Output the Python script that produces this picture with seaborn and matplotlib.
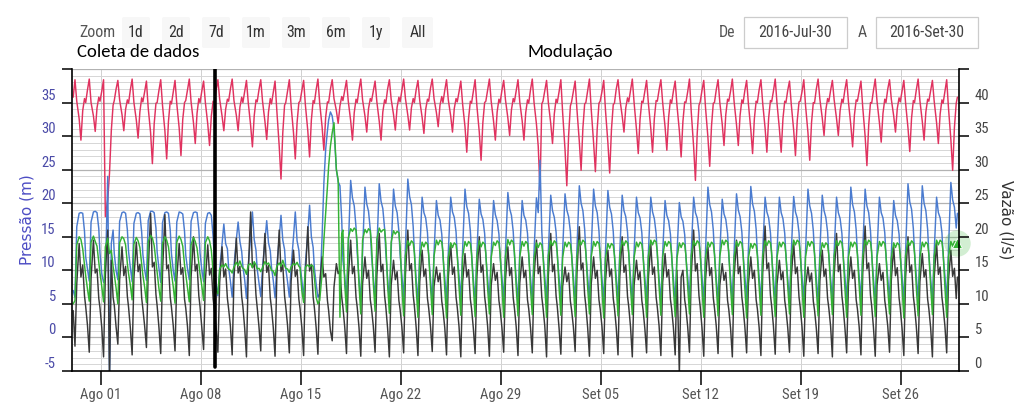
import matplotlib
matplotlib.use("Agg")
import numpy as np
import pandas as pd
import matplotlib.pyplot as plt
import seaborn as sns
from matplotlib import font_manager
from matplotlib.patches import Rectangle, FancyBboxPatch
from matplotlib.ticker import MultipleLocator, FixedLocator

# ---------------- data ----------------
START = "2016-07-30"
HOURS = [2, 5, 8, 12, 15, 18, 21, 23]          # sample hours within each day

RED = [
    [35.8, 38.4, 35.2, 32.6, 29.4, 33.8, 35.6, 35.0],
    [36.9, 38.5, 35.0, 33.0, 30.7, 34.2, 35.8, 35.2],
    [36.7, 38.4, 18.0, 20.5, 24.5, 30.8, 34.6, 35.3],
    [37.0, 38.3, 35.4, 33.2, 30.8, 34.0, 35.4, 34.9],
    [36.9, 38.5, 35.0, 32.4, 29.7, 33.6, 35.7, 35.1],
    [36.6, 38.2, 34.2, 30.5, 25.9, 31.8, 34.9, 35.0],
    [36.8, 38.4, 34.6, 30.8, 26.6, 32.2, 35.2, 34.8],
    [36.5, 38.3, 34.8, 31.2, 27.1, 32.5, 35.0, 35.3],
    [36.9, 38.5, 35.1, 32.0, 28.9, 33.4, 35.6, 35.0],
    [36.7, 38.2, 35.0, 31.8, 28.6, 33.0, 35.2, 34.9],
    [36.8, 38.4, 35.5, 33.0, 30.8, 34.0, 35.5, 35.2],
    [37.0, 38.5, 35.3, 33.1, 30.8, 34.3, 35.8, 35.0],
    [36.6, 38.3, 35.0, 31.6, 28.4, 33.0, 35.4, 35.1],
    [36.9, 38.4, 35.2, 32.2, 29.5, 33.6, 35.6, 34.8],
    [36.5, 38.2, 33.8, 28.5, 23.6, 30.5, 34.6, 35.0],
    [36.7, 38.4, 34.5, 30.5, 26.6, 32.0, 35.0, 35.2],
    [36.8, 38.3, 34.6, 30.8, 26.9, 32.4, 35.3, 34.9],
    [36.9, 38.5, 34.9, 31.4, 27.9, 32.8, 35.1, 35.0],
    [37.0, 38.4, 35.6, 33.8, 31.9, 34.5, 35.9, 35.3],
    [36.8, 38.3, 35.2, 32.3, 29.4, 33.5, 35.5, 35.0],
    [36.9, 38.5, 35.4, 33.0, 30.6, 34.1, 35.6, 35.2],
    [36.7, 38.2, 35.1, 32.2, 29.4, 33.6, 35.4, 34.9],
    [37.0, 38.4, 35.5, 33.2, 30.9, 34.3, 35.8, 35.1],
    [36.8, 38.5, 35.6, 33.1, 30.9, 34.2, 35.6, 35.0],
    [36.9, 38.3, 35.3, 32.8, 30.4, 34.0, 35.5, 35.2],
    [37.1, 38.5, 35.6, 33.5, 31.4, 34.6, 35.9, 35.0],
    [36.8, 38.4, 35.4, 33.0, 30.6, 34.1, 35.6, 35.1],
    [36.6, 38.2, 34.8, 31.4, 27.6, 32.6, 35.2, 34.9],
    [36.7, 38.4, 34.5, 30.6, 26.4, 32.0, 35.0, 35.2],
    [36.9, 38.5, 35.2, 32.2, 29.4, 33.6, 35.5, 35.0],
    [36.8, 38.3, 35.4, 32.7, 30.1, 33.9, 35.6, 35.1],
    [36.7, 38.4, 35.1, 32.3, 29.4, 33.5, 35.4, 34.9],
    [36.9, 38.5, 35.0, 31.8, 28.5, 22.0, 34.8, 35.2],
    [36.8, 38.3, 35.0, 31.9, 28.9, 33.3, 35.5, 35.0],
    [36.6, 38.4, 33.5, 28.0, 22.6, 30.0, 34.5, 35.1],
    [36.7, 38.2, 34.0, 29.2, 24.9, 31.2, 34.8, 35.0],
    [36.8, 38.5, 34.0, 29.0, 24.7, 31.0, 34.9, 35.2],
    [36.6, 38.3, 33.8, 29.0, 24.5, 31.0, 34.7, 34.9],
    [37.0, 38.4, 35.6, 33.0, 30.6, 34.2, 35.7, 35.1],
    [36.8, 38.5, 35.0, 31.0, 27.4, 32.5, 35.2, 35.0],
    [36.7, 38.3, 34.9, 31.2, 27.6, 32.6, 35.3, 35.2],
    [36.9, 38.4, 35.0, 31.4, 27.9, 32.8, 35.4, 34.9],
    [36.7, 38.2, 34.6, 30.8, 26.9, 32.2, 35.1, 35.0],
    [36.6, 38.5, 33.6, 28.4, 23.4, 30.4, 34.6, 35.1],
    [36.8, 38.3, 34.2, 29.8, 25.5, 31.5, 34.9, 35.0],
    [36.9, 38.4, 35.0, 31.8, 28.6, 33.2, 35.5, 35.2],
    [36.7, 38.5, 35.1, 31.7, 28.6, 33.1, 35.4, 34.9],
    [36.8, 38.3, 34.8, 31.0, 27.4, 32.6, 35.2, 35.0],
    [36.9, 38.4, 34.9, 31.2, 27.6, 32.7, 35.3, 35.1],
    [36.7, 38.5, 34.9, 31.1, 27.6, 32.6, 35.2, 35.0],
    [36.8, 38.2, 34.7, 30.9, 27.1, 32.3, 35.1, 35.2],
    [36.6, 38.4, 34.5, 30.5, 26.4, 32.0, 35.0, 34.9],
    [37.0, 38.5, 35.5, 32.7, 30.1, 33.9, 35.6, 35.1],
    [36.8, 38.3, 35.4, 32.6, 30.1, 33.8, 35.5, 35.0],
    [36.9, 38.4, 35.1, 31.6, 28.4, 33.1, 35.4, 35.2],
    [36.7, 38.2, 34.3, 30.0, 25.6, 31.6, 35.0, 34.9],
    [36.8, 38.5, 35.2, 32.0, 29.1, 33.4, 35.5, 35.0],
    [37.0, 38.4, 35.5, 33.0, 30.6, 34.1, 35.7, 35.1],
    [36.7, 38.3, 34.9, 31.2, 27.7, 32.7, 35.3, 35.0],
    [36.9, 38.5, 35.3, 32.2, 29.4, 33.6, 35.5, 35.2],
    [36.8, 38.3, 35.2, 32.0, 28.9, 33.3, 35.4, 34.9],
    [36.6, 38.4, 34.2, 29.5, 24.9, 31.3, 34.9, 35.8],
]

BLUE = [
    [7.0, 6.0, 16.5, 18.5, 18.6, 18.5, 15.8, 12.0],
    [10.2, 8.4, 17.2, 18.7, 18.8, 18.6, 16.2, 12.6],
    [9.5, 8.2, 9.0, 24.0, -6.0, 14.0, 16.0, 12.5],
    [10.0, 8.6, 17.3, 18.6, 18.7, 18.5, 16.0, 12.8],
    [10.4, 8.3, 17.0, 18.5, 18.6, 18.4, 15.7, 12.4],
    [10.1, 8.5, 17.4, 18.8, 18.8, 18.6, 16.3, 12.7],
    [10.3, 8.2, 17.1, 18.6, 18.7, 18.5, 16.0, 12.5],
    [10.0, 8.4, 17.2, 18.7, 18.6, 18.4, 15.8, 12.3],
    [10.2, 8.6, 17.3, 18.6, 18.7, 18.6, 16.1, 12.6],
    [10.1, 8.3, 17.0, 18.5, 18.6, 18.2, 15.0, 12.0],
    [8.0, 6.2, 10.0, 14.0, 16.9, 14.0, 13.2, 10.4],
    [8.4, 6.0, 10.6, 14.6, 17.2, 14.3, 12.8, 10.6],
    [8.6, 5.8, 10.8, 15.0, 18.7, 14.6, 13.0, 10.2],
    [8.2, 6.1, 10.4, 14.4, 17.4, 14.1, 12.9, 10.5],
    [8.5, 5.9, 10.7, 14.8, 18.2, 14.5, 13.1, 10.3],
    [8.3, 6.0, 10.5, 15.0, 18.7, 14.4, 13.0, 10.6],
    [8.6, 5.7, 11.0, 15.5, 19.7, 15.0, 13.4, 10.4],
    [8.0, 6.0, 6.5, 15.0, 23.0, 28.0, 30.8, 32.4],
    [33.6, 33.0, 31.0, 25.0, 23.2, 22.6, 17.5, 11.5],
    [9.2, 5.6, 13.2, 23.4, 20.8, 19.6, 16.4, 12.6],
    [8.8, 5.3, 12.8, 22.4, 19.9, 18.8, 16.0, 12.3],
    [9.1, 5.7, 13.1, 22.9, 20.3, 19.2, 16.2, 12.7],
    [8.9, 5.4, 12.9, 22.1, 19.6, 18.6, 15.8, 12.4],
    [9.3, 5.8, 13.4, 23.6, 21.0, 19.8, 16.5, 12.8],
    [8.7, 5.2, 12.6, 20.9, 18.6, 17.8, 15.6, 12.2],
    [8.9, 5.5, 12.5, 20.4, 18.2, 17.5, 15.4, 12.1],
    [9.0, 5.3, 12.7, 20.9, 18.7, 17.9, 15.7, 12.3],
    [9.2, 5.6, 13.0, 22.1, 19.5, 18.5, 15.9, 12.5],
    [8.8, 5.4, 12.6, 20.6, 18.4, 17.6, 15.5, 12.2],
    [8.9, 5.2, 12.5, 20.4, 18.3, 17.4, 15.4, 12.0],
    [9.1, 5.5, 12.9, 21.6, 19.2, 18.2, 15.8, 12.4],
    [8.8, 5.3, 12.6, 20.4, 18.2, 17.5, 15.5, 12.2],
    [9.0, 5.5, 12.8, 20.8, 18.6, 26.4, 15.8, 12.4],
    [9.1, 5.4, 12.8, 21.2, 18.9, 17.9, 15.7, 12.3],
    [8.9, 5.6, 12.9, 21.4, 19.0, 18.0, 15.8, 12.5],
    [9.2, 5.3, 13.1, 22.6, 20.0, 18.9, 16.1, 12.6],
    [9.0, 5.5, 13.0, 22.1, 19.6, 18.6, 15.9, 12.4],
    [8.8, 5.4, 12.9, 21.9, 19.4, 18.4, 15.8, 12.3],
    [9.1, 5.6, 12.8, 21.2, 18.9, 18.0, 15.7, 12.5],
    [8.9, 5.3, 12.7, 20.9, 18.6, 17.8, 15.6, 12.2],
    [9.0, 5.5, 12.6, 20.9, 18.7, 17.7, 15.5, 12.3],
    [8.8, 5.2, 12.5, 20.4, 18.2, 17.4, 15.4, 12.1],
    [8.9, 5.4, 12.4, 20.1, 18.0, 17.3, 15.3, 12.0],
    [9.1, 5.6, 12.7, 20.9, 18.6, 17.8, 15.6, 12.4],
    [9.2, 5.3, 13.0, 22.4, 19.8, 18.7, 16.0, 12.5],
    [8.8, 5.5, 12.6, 20.6, 18.4, 17.6, 15.5, 12.2],
    [9.0, 5.4, 12.8, 21.4, 19.0, 18.0, 15.7, 12.4],
    [9.2, 5.6, 13.1, 22.5, 19.9, 18.8, 16.1, 12.6],
    [8.9, 5.3, 12.7, 20.9, 18.7, 17.8, 15.6, 12.3],
    [9.0, 5.5, 12.6, 20.9, 18.6, 17.7, 15.5, 12.2],
    [8.8, 5.4, 12.7, 21.0, 18.7, 17.8, 15.6, 12.3],
    [9.1, 5.6, 13.0, 22.1, 19.6, 18.5, 15.9, 12.5],
    [8.9, 5.3, 12.8, 21.2, 18.9, 17.9, 15.7, 12.3],
    [9.0, 5.5, 12.7, 20.9, 18.6, 17.7, 15.5, 12.2],
    [9.2, 5.4, 13.0, 22.4, 19.8, 18.7, 16.0, 12.6],
    [9.0, 5.6, 12.9, 22.1, 19.6, 18.6, 15.9, 12.4],
    [8.8, 5.3, 12.6, 20.9, 18.6, 17.8, 15.6, 12.2],
    [8.9, 5.5, 12.5, 20.4, 18.2, 17.4, 15.4, 12.1],
    [9.2, 5.4, 13.1, 22.9, 20.2, 19.1, 16.2, 12.6],
    [9.1, 5.6, 13.0, 22.6, 20.0, 18.9, 16.1, 12.5],
    [8.9, 5.3, 12.7, 20.9, 18.6, 17.8, 15.6, 12.3],
    [9.2, 5.5, 13.2, 23.1, 20.5, 19.4, 16.3, 18.5],
]

BLACK = [
    [4.0, -1.3, 8.0, 14.0, 9.0, 10.8, 6.2, 4.6],
    [1.8, -2.2, 8.8, 14.5, 9.6, 10.2, 5.8, 4.4],
    [1.5, -2.9, 9.5, 16.0, -6.0, 11.5, 6.0, 4.8],
    [1.6, -1.0, 8.6, 13.5, 9.2, 10.6, 6.1, 4.5],
    [1.4, -2.6, 8.9, 14.2, 9.8, 10.9, 5.9, 4.3],
    [1.7, -1.5, 9.8, 18.5, 10.5, 11.2, 6.4, 4.7],
    [1.5, -2.4, 9.6, 18.3, 10.2, 10.8, 6.0, 4.5],
    [1.8, -2.0, 8.7, 14.0, 9.4, 10.4, 5.7, 4.4],
    [1.6, -2.7, 9.0, 15.0, 9.9, 10.9, 6.2, 4.6],
    [1.5, -1.8, 8.5, 13.8, 9.3, 10.3, 5.8, 4.2],
    [1.5, -2.2, 8.2, 13.5, 9.0, 10.2, 5.8, 4.3],
    [1.7, -2.6, 8.8, 14.8, 9.6, 10.6, 6.1, 4.6],
    [1.4, -2.9, 9.6, 18.7, 10.4, 11.0, 6.3, 4.5],
    [1.6, -2.0, 8.9, 15.5, 9.7, 10.7, 5.9, 4.4],
    [1.5, -2.8, 9.1, 16.0, 9.8, 10.8, 6.2, 4.6],
    [1.8, -2.3, 8.4, 13.0, 9.1, 10.1, 5.7, 4.3],
    [1.5, -2.7, 9.2, 16.5, 9.9, 10.9, 6.0, 4.5],
    [1.5, -2.5, 8.0, 12.0, 9.0, 9.5, 5.5, 4.0],
    [1.0, -0.5, 7.5, 11.0, 9.5, 10.0, 6.0, 4.5],
    [1.6, -2.4, 8.8, 14.5, 9.5, 10.6, 6.0, 4.5],
    [1.5, -2.8, 8.0, 12.0, 8.8, 10.0, 5.6, 4.3],
    [1.7, -2.2, 9.2, 15.5, 9.8, 10.9, 6.2, 4.6],
    [1.4, -2.9, 7.8, 11.5, 8.6, 9.8, 5.5, 4.2],
    [1.6, -2.3, 9.4, 16.0, 10.0, 11.0, 6.3, 4.7],
    [1.5, -2.7, 8.3, 13.0, 9.1, 10.2, 5.8, 4.4],
    [1.7, -2.1, 7.6, 10.5, 8.3, 9.6, 5.4, 4.1],
    [1.5, -2.6, 8.9, 14.0, 9.4, 10.5, 6.0, 4.5],
    [1.6, -2.9, 8.2, 12.5, 9.0, 10.1, 5.7, 4.3],
    [1.4, -2.4, 9.1, 15.0, 9.7, 10.8, 6.1, 4.6],
    [1.7, -2.8, 7.8, 11.0, 8.5, 9.7, 5.5, 4.2],
    [1.5, -2.2, 8.6, 13.5, 9.2, 10.4, 5.9, 4.4],
    [1.6, -2.7, 8.1, 12.0, 8.9, 10.0, 5.6, 4.3],
    [1.5, -2.3, 8.9, 14.5, 9.5, 10.6, 6.0, 4.5],
    [1.7, -2.9, 9.2, 15.5, 9.8, 10.9, 6.2, 4.6],
    [1.4, -2.5, 7.6, 10.5, 8.3, 9.6, 5.4, 4.1],
    [1.6, -2.1, 9.5, 16.5, 10.1, 11.1, 6.3, 4.7],
    [1.5, -2.8, 8.0, 12.0, 8.8, 10.0, 5.6, 4.3],
    [1.7, -2.4, 8.4, 13.0, 9.1, 10.2, 5.8, 4.4],
    [1.5, -2.6, 9.0, 15.0, 9.7, 10.8, 6.1, 4.6],
    [1.6, -2.9, 7.8, 11.5, 8.6, 9.8, 5.5, 4.2],
    [1.4, -2.3, 8.8, 14.0, 9.4, 10.5, 6.0, 4.5],
    [1.7, -2.7, 8.2, 12.5, 9.0, 10.1, 5.7, 4.3],
    [1.5, -2.6, 10.0, -5.5, 9.0, 10.0, 5.6, 4.4],
    [1.6, -2.2, 9.3, 16.0, 9.9, 11.0, 6.2, 4.6],
    [1.5, -2.8, 8.6, 13.5, 9.2, 10.4, 5.9, 4.4],
    [1.7, -2.4, 7.8, 11.0, 8.5, 9.7, 5.5, 4.2],
    [1.4, -2.9, 9.0, 14.5, 9.5, 10.6, 6.0, 4.5],
    [1.6, -2.3, 8.0, 12.0, 8.8, 10.0, 5.6, 4.3],
    [1.5, -2.7, 9.6, 16.6, 10.2, 11.1, 6.3, 4.7],
    [1.7, -2.5, 7.9, 11.5, 8.6, 9.8, 5.5, 4.2],
    [1.5, -2.2, 8.9, 14.2, 9.5, 10.5, 6.0, 4.5],
    [1.6, -2.8, 7.6, 10.5, 8.3, 9.6, 5.4, 4.1],
    [1.4, -2.4, 8.4, 13.0, 9.1, 10.2, 5.8, 4.4],
    [1.7, -2.9, 9.2, 15.5, 9.8, 10.9, 6.2, 4.6],
    [1.5, -2.3, 8.0, 12.0, 8.8, 10.0, 5.6, 4.3],
    [1.6, -2.6, 9.6, 16.6, 10.2, 11.1, 6.3, 4.7],
    [1.5, -2.8, 7.8, 11.0, 8.5, 9.7, 5.5, 4.2],
    [1.7, -2.2, 8.6, 13.5, 9.2, 10.4, 5.9, 4.4],
    [1.4, -2.7, 9.0, 15.0, 9.7, 10.8, 6.1, 4.6],
    [1.6, -2.4, 8.3, 12.5, 9.0, 10.1, 5.7, 4.3],
    [1.5, -2.9, 8.9, 14.0, 9.4, 10.5, 6.0, 4.5],
    [1.7, -2.3, 8.5, 13.0, 9.1, 10.3, 5.8, 9.0],
]

GREEN = [
    [5.0, 5.5, 13.8, 15.0, 14.6, 13.2, 10.8, 9.2],
    [7.2, 5.4, 14.2, 15.1, 14.3, 13.6, 11.2, 9.6],
    [7.6, 5.3, 13.5, 14.8, 12.5, 13.0, 10.6, 9.4],
    [7.4, 5.0, 14.1, 15.0, 14.7, 13.8, 11.0, 9.5],
    [7.8, 5.6, 13.9, 14.9, 14.4, 13.4, 10.9, 9.3],
    [7.5, 5.2, 14.3, 15.2, 14.8, 13.7, 11.3, 9.7],
    [7.3, 5.4, 14.0, 15.0, 14.5, 13.5, 11.1, 9.6],
    [7.6, 5.1, 14.2, 15.1, 14.6, 13.6, 10.8, 9.4],
    [7.4, 5.3, 13.8, 14.9, 14.3, 13.3, 11.0, 9.5],
    [7.7, 5.5, 14.1, 15.0, 14.4, 13.0, 9.8, 8.0],
    [7.0, 6.5, 10.2, 10.8, 10.5, 11.0, 10.4, 10.2],
    [10.0, 9.6, 10.5, 11.2, 10.7, 11.4, 10.6, 10.3],
    [10.1, 9.4, 10.8, 11.0, 10.4, 11.3, 10.8, 10.2],
    [10.3, 9.8, 10.4, 11.3, 10.9, 11.1, 10.5, 10.0],
    [9.9, 9.2, 10.6, 11.1, 10.6, 11.5, 10.7, 10.3],
    [10.2, 9.7, 10.5, 11.0, 10.8, 11.2, 10.6, 10.4],
    [7.0, 5.2, 10.5, 10.8, 10.5, 10.8, 10.6, 9.0],
    [6.0, 5.0, 5.5, 9.5, 14.5, 18.5, 22.5, 25.5],
    [28.5, 30.5, 32.0, 25.0, 23.5, 3.0, 15.5, 16.0],
    [8.0, 3.8, 14.8, 16.2, 15.8, 16.3, 16.0, 14.0],
    [7.8, 3.5, 14.5, 16.1, 15.6, 16.2, 15.9, 13.8],
    [8.1, 3.9, 14.6, 16.3, 15.7, 16.0, 16.1, 14.1],
    [7.9, 3.6, 14.2, 15.9, 15.4, 15.8, 15.6, 13.6],
    [7.6, 3.2, 12.2, 14.4, 13.7, 14.4, 14.1, 12.6],
    [7.4, 3.0, 11.8, 14.2, 13.5, 14.2, 13.9, 12.4],
    [7.7, 3.4, 12.1, 14.5, 13.8, 14.5, 14.2, 12.7],
    [7.3, 2.9, 11.9, 14.1, 13.4, 14.1, 13.8, 12.3],
    [7.5, 3.3, 12.0, 14.3, 13.6, 14.3, 14.0, 12.5],
    [7.6, 3.1, 12.2, 14.4, 13.5, 14.2, 13.9, 12.6],
    [7.4, 3.5, 11.9, 14.2, 13.7, 14.4, 14.1, 12.4],
    [7.7, 3.0, 12.1, 14.6, 13.8, 14.5, 14.2, 12.7],
    [7.5, 3.2, 12.0, 14.3, 13.6, 14.3, 14.0, 12.5],
    [7.3, 3.4, 11.8, 14.1, 13.4, 14.1, 13.8, 12.3],
    [7.6, 3.0, 12.2, 14.4, 13.7, 14.4, 14.1, 12.6],
    [7.4, 3.3, 11.9, 14.2, 13.5, 14.2, 13.9, 12.4],
    [7.7, 3.1, 12.1, 14.5, 13.8, 14.5, 14.2, 12.7],
    [7.5, 3.5, 12.0, 14.3, 13.6, 14.3, 14.0, 12.5],
    [7.3, 2.9, 11.8, 14.0, 13.3, 14.0, 13.7, 12.2],
    [7.6, 3.2, 12.2, 14.4, 13.7, 14.4, 14.1, 12.6],
    [7.4, 3.4, 11.9, 14.2, 13.5, 14.2, 13.9, 12.4],
    [7.7, 3.0, 12.1, 14.5, 13.8, 14.5, 14.2, 12.7],
    [7.5, 3.3, 12.0, 14.3, 13.6, 14.3, 14.0, 12.5],
    [7.3, 3.1, 11.8, 14.1, 13.4, 14.1, 13.8, 12.3],
    [7.6, 3.5, 12.2, 14.4, 13.7, 14.4, 14.1, 12.6],
    [7.4, 3.0, 11.9, 14.2, 13.5, 14.2, 13.9, 12.4],
    [7.7, 3.2, 12.1, 14.5, 13.8, 14.5, 14.2, 12.7],
    [7.5, 3.4, 12.0, 14.3, 13.6, 14.3, 14.0, 12.5],
    [7.3, 2.9, 11.8, 14.0, 13.3, 14.0, 13.7, 12.2],
    [7.6, 3.3, 12.2, 14.4, 13.7, 14.4, 14.1, 12.6],
    [7.4, 3.1, 11.9, 14.2, 13.5, 14.2, 13.9, 12.4],
    [7.7, 3.5, 12.1, 14.5, 13.8, 14.5, 14.2, 12.7],
    [7.5, 3.0, 12.0, 14.3, 13.6, 14.3, 14.0, 12.5],
    [7.3, 3.2, 11.8, 14.1, 13.4, 14.1, 13.8, 12.3],
    [7.6, 3.4, 12.2, 14.4, 13.7, 14.4, 14.1, 12.6],
    [7.4, 3.0, 11.9, 14.2, 13.5, 14.2, 13.9, 12.4],
    [7.7, 3.3, 12.1, 14.5, 13.8, 14.5, 14.2, 12.7],
    [7.5, 3.1, 12.0, 14.3, 13.6, 14.3, 14.0, 12.5],
    [7.3, 3.5, 11.8, 14.1, 13.4, 14.1, 13.8, 12.3],
    [7.6, 2.9, 12.2, 14.4, 13.7, 14.4, 14.1, 12.6],
    [7.4, 3.2, 11.9, 14.2, 13.5, 14.2, 13.9, 12.4],
    [7.7, 3.4, 12.1, 14.5, 13.8, 14.5, 14.2, 12.7],
    [7.5, 3.0, 12.0, 14.3, 13.6, 14.3, 14.2, 14.0],
]

SERIES_NAMES = ["red", "blue", "black", "green"]
PALETTE = {"red": "#e0325f", "blue": "#4a7bcf", "black": "#383838", "green": "#33b233"}

XTICK_DATES = ["2016-08-01", "2016-08-08", "2016-08-15", "2016-08-22", "2016-08-29",
               "2016-09-05", "2016-09-12", "2016-09-19", "2016-09-26"]
XTICK_LABELS = ["Ago 01", "Ago 08", "Ago 15", "Ago 22", "Ago 29",
                "Set 05", "Set 12", "Set 19", "Set 26"]
X_START = "2016-07-30 00:00"
X_END = "2016-09-30 01:40"
LEFT_TICKS = [-5, 0, 5, 10, 15, 20, 25, 30, 35, 40]
LEFT_LABELS = ["-5", "0", "5", "10", "15", "20", "25", "30", "35", ""]
RIGHT_TICKS = [0, 5, 10, 15, 20, 25, 30, 35, 40, 45]
RIGHT_LABELS = ["0", "5", "10", "15", "20", "25", "30", "35", "40", ""]
MOD_DATE = "2016-08-09 00:00"
ZOOM_BUTTONS = ["1d", "2d", "7d", "1m", "3m", "6m", "1y", "All"]
DATE_FROM = "2016-Jul-30"
DATE_TO = "2016-Set-30"

# ---------------- build long table ----------------
start = pd.Timestamp(START)
rows = []
for name, table in zip(SERIES_NAMES, [RED, BLUE, BLACK, GREEN]):
    for d, day in enumerate(table):
        for h, v in zip(HOURS, day):
            rows.append((start + pd.Timedelta(days=d, hours=h), v, name))
df = pd.DataFrame(rows, columns=["time", "value", "series"])

# ---------------- fonts ----------------
sns.set_theme(style="white")
available = {f.name for f in font_manager.fontManager.ttflist}
def pick(cands, default="DejaVu Sans"):
    for c in cands:
        if c in available:
            return c
    return default
NARROW = pick(["Liberation Sans Narrow", "Roboto Condensed", "Open Sans Condensed",
               "Arial Narrow"], None)
if NARROW is None:
    NARROW, NSIZE = "Roboto", 9.3
else:
    NSIZE = 10.6
CAL = pick(["Carlito", "Calibri", "Lato", "Open Sans"])
plt.rcParams["font.family"] = [NARROW, "DejaVu Sans"]
TB = NSIZE * 1.08

W, H = 1023, 412
fig = plt.figure(figsize=(W / 100, H / 100), dpi=100)
fig.patch.set_facecolor("white")

# overlay in pixel coordinates for the tool bar and captions
ov = fig.add_axes([0, 0, 1, 1])
ov.set_xlim(0, W)
ov.set_ylim(H, 0)
ov.axis("off")

ov.text(97, 32.5, "Zoom", ha="center", va="center", fontsize=TB, color="#555555")
for i, lab in enumerate(ZOOM_BUTTONS):
    x0 = 122 + 40 * i
    w = 31 if lab == "All" else 28
    ov.add_patch(FancyBboxPatch((x0, 17), w, 31, boxstyle="round,pad=0,rounding_size=2",
                                fc="#f7f7f7", ec="none"))
    ov.text(x0 + w / 2, 32.5, lab, ha="center", va="center", fontsize=TB, color="#333333")

ov.text(727, 32.5, "De", ha="center", va="center", fontsize=TB, color="#555555")
ov.add_patch(Rectangle((743.5, 16.5), 103, 31, fc="white", ec="#cccccc", lw=0.9))
ov.text(795, 32.5, DATE_FROM, ha="center", va="center", fontsize=TB, color="#444444")
ov.text(862, 32.5, "A", ha="center", va="center", fontsize=TB, color="#555555")
ov.add_patch(Rectangle((875.5, 16.5), 102, 31, fc="white", ec="#cccccc", lw=0.9))
ov.text(926.5, 32.5, DATE_TO, ha="center", va="center", fontsize=TB, color="#444444")

ov.text(77, 52, "Coleta de dados", ha="left", va="center", fontsize=13.5,
        family=[CAL, "DejaVu Sans"], color="black")
ov.text(570, 52, "Modulação", ha="center", va="center", fontsize=13.5,
        family=[CAL, "DejaVu Sans"], color="black")

# ---------------- main axes ----------------
ax = fig.add_axes([72 / W, (H - 371) / H, 887 / W, 302 / H])
ax.set_facecolor("white")

sns.lineplot(data=df, x="time", y="value", hue="series", hue_order=SERIES_NAMES,
             palette=PALETTE, estimator=None, sort=False, linewidth=1.05,
             legend=False, ax=ax)

ax.set_xlim(pd.Timestamp(X_START), pd.Timestamp(X_END))
ax.set_ylim(-5, 40)

ax.axvline(pd.Timestamp(MOD_DATE), ymin=0.012, ymax=1.0, color="black", lw=2.6, zorder=6)

# hover marker on the last green point
last = df[df.series == "green"].iloc[-1]
ax.plot([last.time], [last.value], marker="o", ms=19, color=PALETTE["green"], alpha=0.22,
        mec="none", clip_on=False, zorder=7)
ax.plot([last.time], [last.value], marker="^", ms=6.5, color=PALETTE["green"],
        mec="white", mew=0.6, clip_on=False, zorder=8)

ax.set_xticks(pd.to_datetime(XTICK_DATES))
ax.set_xticklabels(XTICK_LABELS)
ax.yaxis.set_major_locator(FixedLocator(LEFT_TICKS))
ax.set_yticklabels(LEFT_LABELS)
ax.yaxis.set_minor_locator(MultipleLocator(1))

ax.grid(which="minor", axis="y", color="#d6d6d6", lw=0.7)
ax.grid(which="major", axis="y", color="#b2b2b2", lw=0.9)
ax.grid(which="major", axis="x", color="#d0d0d0", lw=0.7)
ax.set_axisbelow(True)

ax.tick_params(axis="y", which="major", direction="out", length=7.2, width=1.1,
               color="black", labelcolor="#4b4ba8", labelsize=NSIZE, pad=4.5, left=True)
ax.tick_params(axis="y", which="minor", length=0)
ax.tick_params(axis="x", direction="out", length=10, width=1.1, color="black",
               labelcolor="#555555", labelsize=NSIZE, pad=2.5, bottom=True)
for lbl in ax.get_yticklabels():
    lbl.set_verticalalignment("bottom")

for s in ["top", "right"]:
    ax.spines[s].set_visible(False)
for s in ["left", "bottom"]:
    ax.spines[s].set_color("black")
    ax.spines[s].set_linewidth(1.2)

ax.set_xlabel("")
ax.set_ylabel("Pressão (m)", color="#4d4dc4", fontsize=11, family=["DejaVu Sans"],
              va="center")
ax.yaxis.set_label_coords((27 - 72) / 887, 0.5)

ax2 = ax.twinx()
ax2.set_ylim(0, 45)
ax2.yaxis.set_major_locator(FixedLocator(RIGHT_TICKS))
ax2.set_yticklabels(RIGHT_LABELS)
ax2.grid(False)
for s in ["top", "left", "bottom"]:
    ax2.spines[s].set_visible(False)
ax2.spines["right"].set_color("black")
ax2.spines["right"].set_linewidth(1.2)
ax2.tick_params(axis="y", direction="out", length=7.2, width=1.1, color="black",
                labelcolor="#444444", labelsize=NSIZE, pad=4, right=True)
for lbl in ax2.get_yticklabels():
    lbl.set_verticalalignment("bottom")
ax2.set_ylabel("Vazão (l/s)", rotation=270, color="#333333", fontsize=11,
               family=["DejaVu Sans"], va="center")
ax2.yaxis.set_label_coords((1006 - 72) / 887, 0.5)

fig.savefig("out.png", dpi=100, facecolor="white")
